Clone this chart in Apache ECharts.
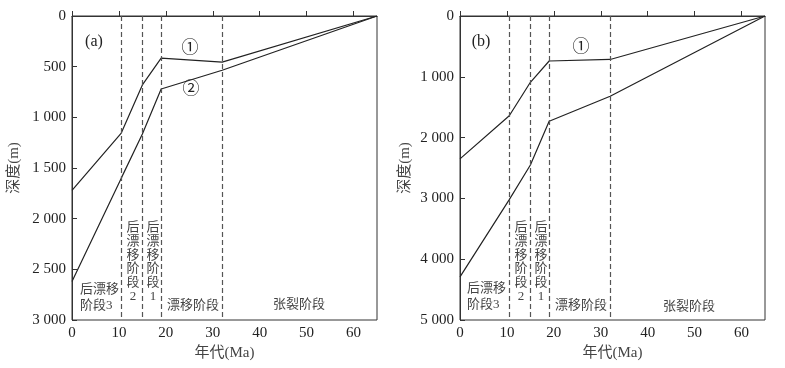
<!DOCTYPE html>
<html>
<head>
<meta charset="utf-8">
<script src="https://cdn.jsdelivr.net/npm/echarts@6/dist/echarts.min.js"></script>
<style>
  html, body { margin: 0; padding: 0; background: #fff; }
  #main { width: 785px; height: 368px; }
</style>
</head>
<body>
<div id="main"></div>
<script>
// 年代 (Ma) 与各期埋藏深度 (m)
var ageX = [0, 10.5, 15, 19, 32, 65];
var aDepth1 = [1720, 1155, 680, 415, 455, 0];
var aDepth2 = [2620, 1600, 1165, 720, 535, 0];
var bDepth1 = [2350, 1640, 1090, 740, 715, 0];
var bDepth2 = [4290, 3020, 2450, 1730, 1320, 0];
// 阶段分界
var stageBounds = [10.5, 15, 19, 32];

var myChart = echarts.init(document.getElementById('main'));

var numFont = 'Liberation Serif, "Noto Sans CJK SC", serif';
var cnFont = '"Liberation Serif", "Noto Sans CJK SC", sans-serif';

function fmtDepth(v) {
    if (v < 1000) return String(v);
    var r = v % 1000;
    return Math.floor(v / 1000) + ' ' + (r < 10 ? '00' : r < 100 ? '0' : '') + r;
}

function pairs(ys) {
    return ageX.map(function (x, i) { return [x, ys[i]]; });
}

function xAxisOf(idx) {
    return {
        gridIndex: idx, type: 'value', min: 0, max: 65, interval: 10,
        name: '年代(Ma)', nameLocation: 'middle', nameGap: 21,
        nameTextStyle: { fontFamily: cnFont, fontSize: 15, color: '#444' },
        axisLine: { lineStyle: { color: '#333' } },
        axisTick: { inside: true, length: 5, lineStyle: { color: '#333' } },
        axisLabel: { fontFamily: numFont, fontSize: 15, color: '#222', margin: 6,
            showMaxLabel: false },
        splitLine: { show: false }
    };
}

function yAxisOf(idx, max, step, gap) {
    return {
        gridIndex: idx, type: 'value', inverse: true, min: 0, max: max, interval: step,
        name: '深度(m)', nameLocation: 'middle', nameGap: gap,
        nameTextStyle: { fontFamily: cnFont, fontSize: 15, color: '#444' },
        axisLine: { lineStyle: { color: '#333' } },
        axisTick: { inside: true, length: 5, lineStyle: { color: '#333' } },
        axisLabel: { fontFamily: numFont, fontSize: 15, color: '#222', margin: 6,
            formatter: fmtDepth },
        splitLine: { show: false }
    };
}

function lineSeries(idx, ys, withBounds) {
    var s = {
        type: 'line', xAxisIndex: idx, yAxisIndex: idx,
        data: pairs(ys), symbol: 'none', silent: true,
        lineStyle: { color: '#222', width: 1.2 }
    };
    if (withBounds) {
        s.markLine = {
            silent: true, symbol: 'none', label: { show: false },
            lineStyle: { color: '#555', type: [5, 3], width: 1.2 },
            data: stageBounds.map(function (b) { return { xAxis: b }; })
        };
    }
    return s;
}

function txt(x, y, text, opt) {
    opt = opt || {};
    return {
        type: 'text', x: x, y: y, silent: true,
        style: {
            text: text,
            fontFamily: opt.font || cnFont,
            fontSize: opt.size || 13,
            lineHeight: opt.lh || 14,
            fill: opt.color || '#444',
            align: opt.align || 'center',
            verticalAlign: opt.va || 'middle'
        }
    };
}

option = {
    animation: false,
    grid: [
        { left: 72, top: 16, width: 305, height: 304, show: true, borderColor: '#333', borderWidth: 1 },
        { left: 460, top: 16, width: 305, height: 304, show: true, borderColor: '#333', borderWidth: 1 }
    ],
    xAxis: [xAxisOf(0), xAxisOf(1)],
    yAxis: [yAxisOf(0, 3000, 500, 50), yAxisOf(1, 5000, 1000, 47)],
    series: [
        lineSeries(0, aDepth1, true),
        lineSeries(0, aDepth2, false),
        lineSeries(1, bDepth1, true),
        lineSeries(1, bDepth2, false)
    ],
    graphic: [
        txt(94, 42, '(a)', { font: numFont, size: 16, color: '#222' }),
        txt(190, 49, '①', { size: 17, color: '#222' }),
        txt(191, 90, '②', { size: 17, color: '#222' }),
        txt(80, 298, '后漂移\n阶段3', { align: 'left', lh: 16 }),
        txt(133, 221, '后\n漂\n移\n阶\n段\n2', { va: 'top', lh: 13.7 }),
        txt(153, 221, '后\n漂\n移\n阶\n段\n1', { va: 'top', lh: 13.7 }),
        txt(193, 306, '漂移阶段'),
        txt(299, 305, '张裂阶段'),

        txt(481, 42, '(b)', { font: numFont, size: 16, color: '#222' }),
        txt(581, 48, '①', { size: 17, color: '#222' }),
        txt(467, 297, '后漂移\n阶段3', { align: 'left', lh: 16 }),
        txt(521, 221, '后\n漂\n移\n阶\n段\n2', { va: 'top', lh: 13.7 }),
        txt(541, 221, '后\n漂\n移\n阶\n段\n1', { va: 'top', lh: 13.7 }),
        txt(581, 306, '漂移阶段'),
        txt(689, 307, '张裂阶段')
    ]
};

myChart.setOption(option);
</script>
</body>
</html>
